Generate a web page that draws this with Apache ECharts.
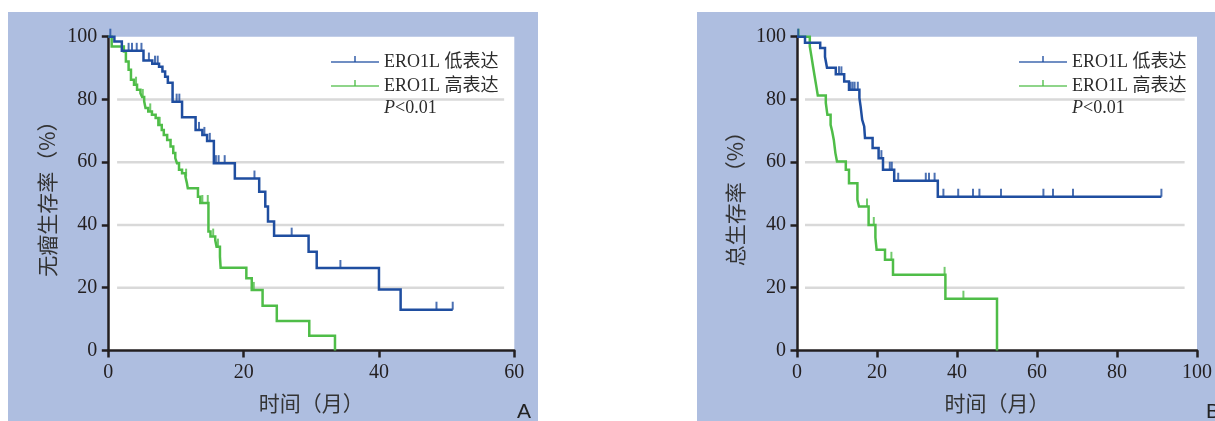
<!DOCTYPE html>
<html>
<head>
<meta charset="utf-8">
<script src="https://cdn.jsdelivr.net/npm/echarts@6/dist/echarts.min.js"></script>
<style>
  html, body { margin: 0; padding: 0; background: #ffffff; }
  #chart { width: 1215px; height: 421px; }
</style>
</head>
<body>
<div id="chart"></div>
<script>
// ---------- tick labels ----------
const yTicks = [0, 20, 40, 60, 80, 100];
const pfsXTicks = [0, 20, 40, 60];
const osXTicks = [0, 20, 40, 60, 80, 100];
const gridValues = [20, 40, 60, 80];

// ---------- text ----------
const groupNames = ['ERO1L 低表达', 'ERO1L 高表达'];
const pValueText = '<0.01';
const panelLetters = ['A', 'B'];
const yNames = ['无瘤生存率（%）', '总生存率（%）'];
const xName = '时间（月）';

// ---------- 无瘤生存: ERO1L 低表达 ----------
const pfsLowTime = [0, 0.9, 2.0, 5.2, 6.5, 7.5, 8.0, 8.4, 8.8, 9.5, 10.9, 12.9, 13.9, 14.6, 15.6, 18.7, 22.3, 23.2, 23.6, 24.5, 29.6, 30.8, 40.0, 43.2, 50.9];
const pfsLowSurv = [100, 98.5, 95.5, 92.4, 91.4, 90.4, 88.9, 87.2, 85.3, 79.3, 74.3, 70.3, 68.7, 66.8, 59.7, 54.8, 50.6, 45.9, 41.1, 36.6, 31.5, 26.3, 19.4, 13.0, 13.0];
const pfsLowCensor = [0.3, 3.0, 3.5, 4.2, 4.9, 6.0, 6.9, 7.3, 10.1, 10.5, 13.4, 14.2, 15.0, 15.9, 16.3, 17.2, 21.6, 27.1, 34.3, 48.5, 50.9];

// ---------- 无瘤生存: ERO1L 高表达 ----------
const pfsHighTime = [0, 0.5, 2.3, 2.6, 3.0, 3.35, 3.8, 4.25, 4.75, 5.0, 5.3, 5.5, 5.9, 6.45, 7.0, 7.4, 7.9, 8.2, 8.7, 9.2, 9.6, 9.9, 10.15, 10.45, 10.9, 11.4, 11.6, 11.75, 13.25, 13.6, 14.8, 15.1, 15.8, 16.0, 16.5, 16.6, 20.4, 21.2, 22.8, 24.9, 29.7, 33.5];
const pfsHighSurv = [100, 96.9, 95.3, 92.1, 89.5, 86.3, 84.7, 83.1, 82.0, 80.8, 79.4, 77.3, 76.2, 75.1, 74.1, 71.9, 70.3, 68.7, 67.1, 65.0, 62.9, 61.3, 59.7, 57.6, 56.5, 55.4, 53.5, 51.7, 49.0, 47.0, 37.9, 36.3, 35.2, 33.1, 29.9, 26.4, 23.0, 19.3, 14.3, 9.4, 4.7, 0];
const pfsHighCensor = [4.1, 5.1, 6.2, 7.6, 11.5, 13.9, 14.7, 15.5, 16.2, 21.5];

// ---------- 总生存: ERO1L 低表达 ----------
const osLowTime = [0, 2.0, 5.8, 7.0, 7.5, 9.7, 11.8, 13.0, 15.6, 15.9, 16.3, 16.8, 17.0, 18.9, 20.4, 21.5, 24.3, 35.2, 91.1];
const osLowSurv = [100, 98.1, 96.4, 93.6, 90.1, 88.0, 85.7, 83.1, 80.5, 77.8, 73.5, 71.4, 67.7, 64.5, 61.3, 57.6, 54.1, 49.0, 49.0];
const osLowCensor = [0.3, 10.5, 11.1, 13.4, 13.9, 14.4, 15.2, 21.1, 23.2, 23.7, 25.3, 32.2, 33.0, 34.4, 36.6, 40.3, 44.0, 45.6, 51.0, 61.6, 64.0, 69.0, 91.1];

// ---------- 总生存: ERO1L 高表达 ----------
const osHighTime = [0, 3.2, 3.6, 4.0, 4.4, 4.8, 5.2, 7.2, 7.6, 8.4, 8.8, 9.2, 9.6, 10.0, 12.2, 13.0, 15.1, 15.5, 17.9, 19.6, 19.9, 22.0, 24.0, 37.1, 50.0];
const osHighSurv = [100, 96.9, 93.8, 90.6, 87.5, 84.4, 81.3, 78.9, 75.1, 71.9, 69.8, 67.1, 62.9, 60.2, 57.6, 53.3, 48.0, 45.9, 40.0, 36.0, 32.1, 28.9, 24.1, 16.5, 0];
const osHighCensor = [0.4, 17.5, 19.2, 23.6, 36.9, 41.6];

// ---------- styling ----------
const BLUE = '#1f4ea0';
const GREEN = '#4fbd48';
const PANEL_BG = '#aebee0';
const GRID_GRAY = '#d9d9d9';
const INK = '#231f20';
const SERIF = '"Liberation Serif", "Noto Sans CJK SC", serif';
const CJK = '"Noto Sans CJK SC", sans-serif';

// survival value in effect at time t (right-continuous step function)
function survivalAt(times, surv, t) {
  let v = surv[0];
  for (let i = 0; i < times.length; i++) {
    if (times[i] <= t) v = surv[i]; else break;
  }
  return v;
}

function kmLine(times, surv, color, idx, z) {
  return {
    type: 'line', xAxisIndex: idx, yAxisIndex: idx,
    data: times.map((t, i) => [t, surv[i]]),
    step: 'end', showSymbol: false, clip: false, silent: true, z: z,
    lineStyle: { color: color, width: 2.5, cap: 'butt', join: 'miter' },
    itemStyle: { color: color }
  };
}

function censorMarks(times, surv, censor, color, idx, z) {
  return {
    type: 'scatter', xAxisIndex: idx, yAxisIndex: idx,
    data: censor.map(t => [t, survivalAt(times, surv, t)]),
    symbol: 'rect', symbolSize: [2, 8], symbolOffset: [0, -4],
    clip: false, silent: true, z: z,
    itemStyle: { color: color }
  };
}

// horizontal reference lines, inset from the plot edges
const gridSpanA = [1.3, 58.5];
const gridSpanB = [2.0, 96.9];
function refLines(span, idx) {
  return gridValues.map(v => ({
    type: 'line', xAxisIndex: idx, yAxisIndex: idx,
    data: [[span[0], v], [span[1], v]],
    showSymbol: false, silent: true, z: 1, clip: false,
    lineStyle: { color: GRID_GRAY, width: 2.5 }
  }));
}

function xAxisOf(ticks, idx) {
  return {
    type: 'value', gridIndex: idx,
    min: ticks[0], max: ticks[ticks.length - 1], interval: ticks[1] - ticks[0],
    name: xName, nameLocation: 'middle', nameGap: 42,
    nameTextStyle: { fontFamily: CJK, fontSize: 21, color: '#333333' },
    axisLine: { show: true, onZero: false, lineStyle: { color: INK, width: 2.5 } },
    axisTick: { show: true, length: 7, lineStyle: { color: INK, width: 2.5 } },
    axisLabel: { margin: 12, fontFamily: SERIF, fontSize: 20, color: INK },
    splitLine: { show: false }
  };
}

function yAxisOf(idx) {
  return {
    type: 'value', gridIndex: idx,
    min: yTicks[0], max: yTicks[yTicks.length - 1], interval: yTicks[1] - yTicks[0],
    name: yNames[idx], nameLocation: 'middle', nameGap: 51,
    nameTextStyle: { fontFamily: CJK, fontSize: 21, color: '#333333' },
    axisLine: { show: true, onZero: false, lineStyle: { color: INK, width: 2.5 } },
    axisTick: { show: true, length: 6.5, lineStyle: { color: INK, width: 2.5 } },
    axisLabel: { margin: 11, fontFamily: SERIF, fontSize: 20, color: INK },
    splitLine: { show: false }
  };
}

// key drawn beside each plot: short line with a censor tick, then the label
function keyItems(x0, y0) {
  const rows = [[BLUE, groupNames[0], y0], [GREEN, groupNames[1], y0 + 24]];
  const out = [];
  rows.forEach(([c, label, y]) => {
    out.push({ type: 'line', z: 10, shape: { x1: x0, y1: y, x2: x0 + 48, y2: y }, style: { stroke: c, lineWidth: 1.6, opacity: 0.85 } });
    out.push({ type: 'line', z: 10, shape: { x1: x0 + 24, y1: y - 6, x2: x0 + 24, y2: y }, style: { stroke: c, lineWidth: 1.6, opacity: 0.85 } });
    out.push({ type: 'text', z: 10, x: x0 + 53, y: y, style: { text: label, font: '18px ' + SERIF, fill: '#2b2b2b', verticalAlign: 'middle', align: 'left' } });
  });
  out.push({ type: 'text', z: 10, x: x0 + 53, y: y0 + 46, style: {
    text: '{i|P}' + pValueText, font: '18px ' + SERIF, fill: '#2b2b2b', verticalAlign: 'middle', align: 'left',
    rich: { i: { fontStyle: 'italic', fontFamily: SERIF, fontSize: 18, fill: '#2b2b2b' } }
  } });
  return out;
}

const chart = echarts.init(document.getElementById('chart'), null, { renderer: 'canvas', width: 1215, height: 421 });

chart.setOption({
  animation: false,
  backgroundColor: '#ffffff',
  grid: [
    { left: 108.3, top: 36.7, width: 406, height: 313.8, show: true, backgroundColor: '#ffffff', borderWidth: 0, containLabel: false },
    { left: 797, top: 36.7, width: 406, height: 313.8, show: true, backgroundColor: '#ffffff', borderWidth: 0, containLabel: false }
  ],
  xAxis: [xAxisOf(pfsXTicks, 0), xAxisOf(osXTicks, 1)],
  yAxis: [yAxisOf(0), yAxisOf(1)],
  series: [
    ...refLines(gridSpanA, 0),
    ...refLines(gridSpanB, 1),
    kmLine(pfsHighTime, pfsHighSurv, GREEN, 0, 3),
    censorMarks(pfsHighTime, pfsHighSurv, pfsHighCensor, GREEN, 0, 3),
    kmLine(pfsLowTime, pfsLowSurv, BLUE, 0, 4),
    censorMarks(pfsLowTime, pfsLowSurv, pfsLowCensor, BLUE, 0, 4),
    kmLine(osHighTime, osHighSurv, GREEN, 1, 3),
    censorMarks(osHighTime, osHighSurv, osHighCensor, GREEN, 1, 3),
    kmLine(osLowTime, osLowSurv, BLUE, 1, 4),
    censorMarks(osLowTime, osLowSurv, osLowCensor, BLUE, 1, 4)
  ],
  graphic: [
    { type: 'rect', z: -1, shape: { x: 8, y: 12, width: 530, height: 409 }, style: { fill: PANEL_BG } },
    { type: 'rect', z: -1, shape: { x: 697, y: 12, width: 518, height: 409 }, style: { fill: PANEL_BG } },
    ...keyItems(331, 62),
    ...keyItems(1019, 62),
    { type: 'text', z: 10, x: 517, y: 423, style: { text: panelLetters[0], font: '21px "Liberation Sans", sans-serif', fill: '#222222', verticalAlign: 'bottom' } },
    { type: 'text', z: 10, x: 1206, y: 423, style: { text: panelLetters[1], font: '21px "Liberation Sans", sans-serif', fill: '#222222', verticalAlign: 'bottom' } }
  ]
});
</script>
</body>
</html>
